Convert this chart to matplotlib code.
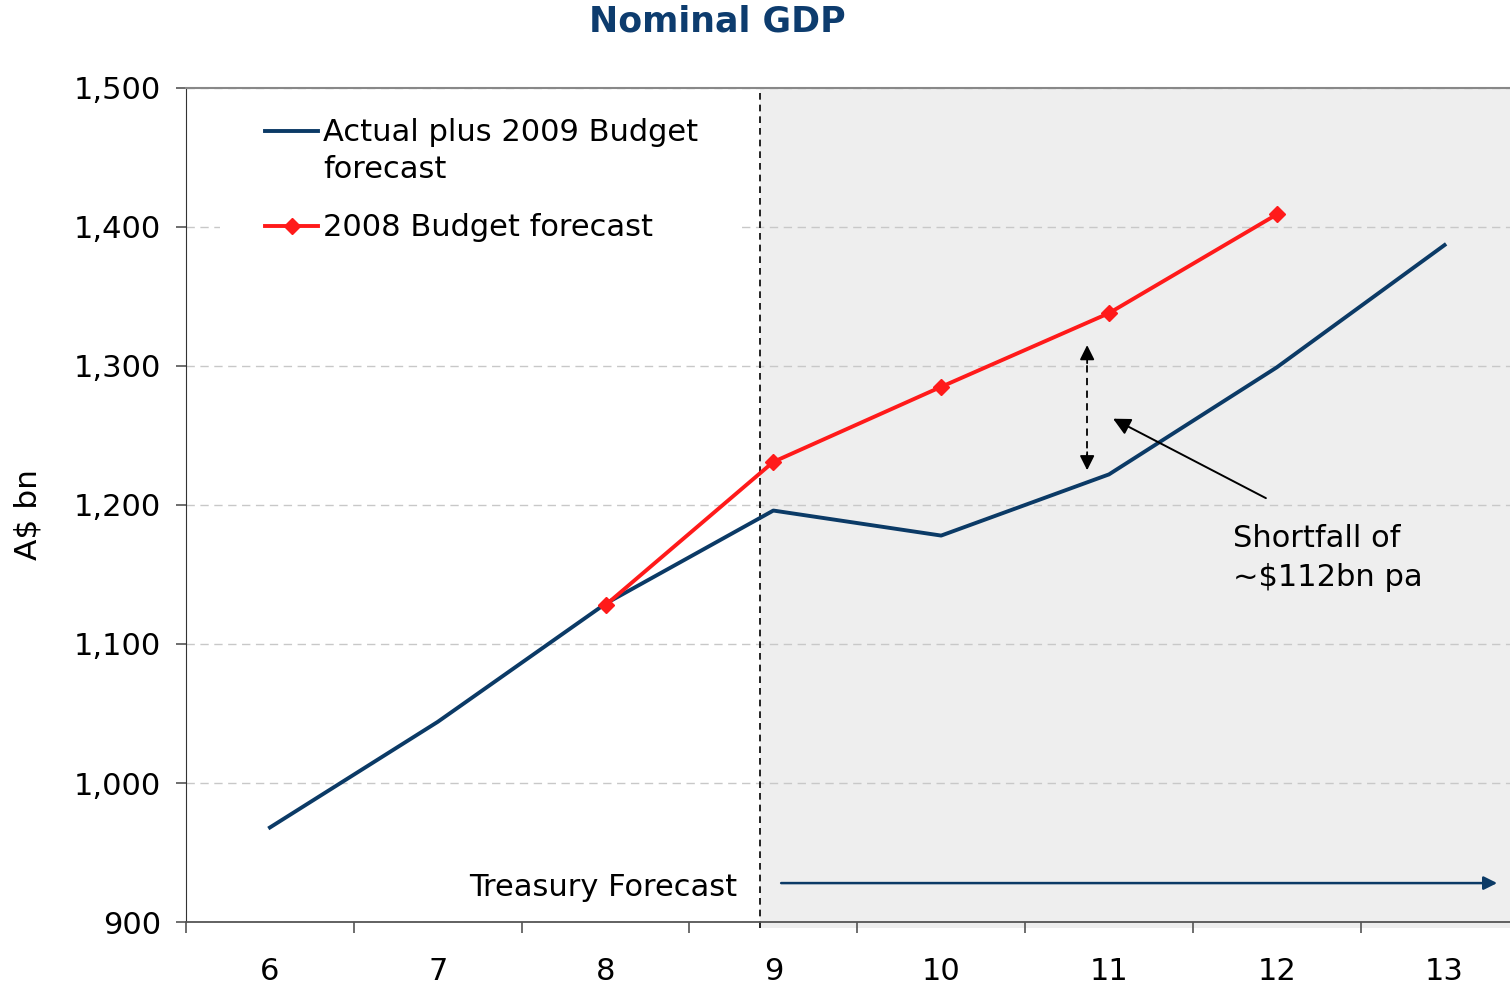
import matplotlib.pyplot as plt
from matplotlib.patches import Rectangle
from matplotlib.lines import Line2D

# Nominal GDP, A$ bn, by financial year
years = [6, 7, 8, 9, 10, 11, 12, 13]
actual_2009 = [968, 1044, 1129, 1196, 1178, 1222, 1299, 1387]
budget_years = [8, 9, 10, 11, 12]
budget_2008 = [1128, 1231, 1285, 1338, 1409]

navy = "#0b3a66"
red = "#ff1a1a"
forecast_start = 8.92

plt.rcParams["font.family"] = "DejaVu Sans"

fig = plt.figure(figsize=(15.1, 9.84), dpi=100)
ax = fig.add_axes([0.1232, 0.063, 0.8768, 0.8476])
ax.set_xlim(5.5, 13.39)
ax.set_ylim(900, 1500)

# shaded forecast period
ax.add_patch(Rectangle((forecast_start, 896), 13.39 - forecast_start, 604,
                       facecolor="#eeeeee", edgecolor="none", zorder=0, clip_on=False))
ax.plot([forecast_start, forecast_start], [896, 1500], color="black",
        ls=(0, (4, 3)), lw=1.2, zorder=2, clip_on=False)

ax.plot(years, actual_2009, color=navy, lw=2.8, zorder=3)
ax.plot(budget_years, budget_2008, color=red, lw=2.8, marker="D", ms=8, zorder=4)

# gap between the two forecasts
ax.plot([10.87, 10.87], [1232, 1308], color="black", ls=(0, (4, 3)), lw=1.3, zorder=5)
for y0, y1 in [(1300, 1317), (1240, 1223)]:
    ax.annotate("", xy=(10.87, y1), xytext=(10.87, y0),
                arrowprops=dict(arrowstyle="-|>", color="black", lw=1.3,
                                mutation_scale=22))
ax.annotate("", xy=(11.01, 1263), xytext=(11.95, 1204),
            arrowprops=dict(arrowstyle="-|>", color="black", lw=1.4,
                            mutation_scale=26))
ax.text(11.74, 1162, "Shortfall of\n~$112bn pa", fontsize=22,
        ha="left", va="center", linespacing=1.45)

ax.text(8.785, 925, "Treasury Forecast", fontsize=22, ha="right", va="center")
ax.annotate("", xy=(13.33, 928), xytext=(9.03, 928),
            arrowprops=dict(arrowstyle="-|>", color=navy, lw=1.8,
                            mutation_scale=20))

# legend drawn by hand in axes fractions
def fx(px):
    return (px - 186) / 1324


def fy(py):
    return (922 - py) / 834


tr = ax.transAxes
ax.add_patch(Rectangle((fx(220), fy(255)), fx(742) - fx(220), fy(96) - fy(255),
                       transform=tr, facecolor="white", edgecolor="none", zorder=6))
ax.add_line(Line2D([fx(265), fx(318)], [fy(131), fy(131)], transform=tr,
                   color=navy, lw=2.8, zorder=7))
ax.add_line(Line2D([fx(265), fx(318)], [fy(226), fy(226)], transform=tr,
                   color=red, lw=2.8, zorder=7))
ax.add_line(Line2D([fx(292)], [fy(226)], transform=tr, color=red, marker="D",
                   ms=8, zorder=8))
ax.text(fx(323), fy(133), "Actual plus 2009 Budget", transform=tr, fontsize=22,
        va="center", ha="left", zorder=8)
ax.text(fx(323), fy(170), "forecast", transform=tr, fontsize=22,
        va="center", ha="left", zorder=8)
ax.text(fx(323), fy(228), "2008 Budget forecast", transform=tr, fontsize=22,
        va="center", ha="left", zorder=8)

# axes styling
yticks = list(range(900, 1501, 100))
ax.set_yticks(yticks)
ax.set_yticklabels([f"{v:,}" for v in yticks])
ax.yaxis.grid(True, ls=(0, (6, 4)), color="#c8c8c8", lw=1)
ax.set_axisbelow(True)

ax.set_xticks([5.5 + i for i in range(8)])
ax.set_xticklabels([])
ax.set_xticks(years, minor=True)
ax.set_xticklabels([str(y) for y in years], minor=True)
ax.tick_params(axis="x", which="major", length=8, width=1.2, color="#555555")
ax.tick_params(axis="x", which="minor", length=0, pad=25, labelsize=22)
ax.tick_params(axis="y", length=7, width=1.2, color="#555555", pad=11, labelsize=22)

ax.spines["right"].set_visible(False)
ax.spines["top"].set_color("#888888")
ax.spines["top"].set_linewidth(1.5)
ax.spines["left"].set_color("#333333")
ax.spines["bottom"].set_color("#555555")
ax.spines["bottom"].set_linewidth(1.3)

fig.text(28 / 1510, 1 - 515 / 984, "A$ bn", rotation=90, fontsize=22.5,
         ha="center", va="center")
fig.text(717 / 1510, 1 - 22 / 984, "Nominal GDP", fontsize=25,
         fontweight="bold", color="#0d3c6e", ha="center", va="center")

fig.savefig("out.png", dpi=100)
